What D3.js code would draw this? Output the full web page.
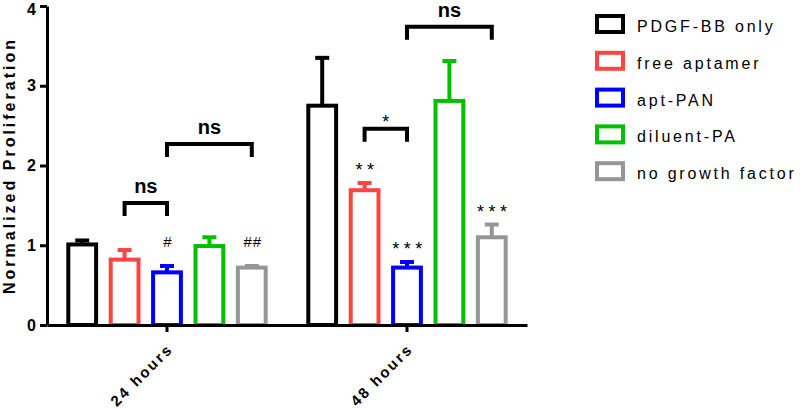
<!DOCTYPE html>
<html>
<head>
<meta charset="utf-8">
<script src="https://cdn.jsdelivr.net/npm/d3@7"></script>
<style>
  body { margin: 0; background: #fff; }
  text { font-family: "Liberation Sans", Arial, Helvetica, sans-serif; }
</style>
</head>
<body>
<div id="chart"></div>
<script>
// chart values
const groups = ["24 hours", "48 hours"];
const series = ["PDGF-BB only", "free aptamer", "apt-PAN", "diluent-PA", "no growth factor"];
const colors = ["#000000", "#ff4444", "#0000ff", "#00c000", "#969696"];
const mean24 = [1.01, 0.82, 0.66, 0.99, 0.72];
const sem24 = [0.05, 0.12, 0.08, 0.11, 0.02];
const mean48 = [2.75, 1.69, 0.72, 2.81, 1.10];
const sem48 = [0.60, 0.09, 0.07, 0.50, 0.16];
const marks24 = ["", "", "#", "", "##"];
const marks48 = ["", "**", "***", "", "***"];
const yTicks = [0, 1, 2, 3, 4];

// significance brackets: group, from-series, to-series, height, label
const brackets = [
  { g: "24 hours", a: 1, b: 2, y: 1.53, label: "ns" },
  { g: "24 hours", a: 2, b: 4, y: 2.27, label: "ns" },
  { g: "48 hours", a: 1, b: 2, y: 2.46, label: "*" },
  { g: "48 hours", a: 2, b: 4, y: 3.74, label: "ns" }
];

const width = 800, height = 410;
const plot = { left: 47, right: 527, top: 6, bottom: 325 };

const svg = d3.select("#chart").append("svg")
  .attr("width", width)
  .attr("height", height);

const y = d3.scaleLinear().domain([0, 4]).range([plot.bottom, plot.top]);
const x0 = d3.scaleBand().domain(groups).range([plot.left, plot.right]);
const x1 = d3.scaleBand().domain(d3.range(series.length))
  .range([14, x0.bandwidth() - 14])
  .paddingInner(0.25)
  .paddingOuter(0.125);

const rows = [];
groups.forEach((g, gi) => {
  const m = gi === 0 ? mean24 : mean48;
  const s = gi === 0 ? sem24 : sem48;
  const k = gi === 0 ? marks24 : marks48;
  series.forEach((name, i) => rows.push({ g, i, mean: m[i], sem: s[i], mark: k[i] }));
});
const cx = d => x0(d.g) + x1(d.i) + x1.bandwidth() / 2;
const isStar = s => s[0] === "*";

// bars
svg.append("g").selectAll("rect")
  .data(rows)
  .enter()
  .append("rect")
  .attr("x", d => x0(d.g) + x1(d.i) + 2)
  .attr("y", d => y(d.mean))
  .attr("width", x1.bandwidth() - 4)
  .attr("height", d => y(0) - y(d.mean))
  .attr("fill", "#fff")
  .attr("stroke", d => colors[d.i])
  .attr("stroke-width", 4);

// error bars (upper only)
const err = svg.append("g").selectAll("g")
  .data(rows)
  .enter()
  .append("g")
  .attr("stroke", d => colors[d.i])
  .attr("stroke-width", 4);
err.append("line")
  .attr("x1", cx).attr("x2", cx)
  .attr("y1", d => y(d.mean))
  .attr("y2", d => y(d.mean + d.sem));
err.append("line")
  .attr("x1", d => cx(d) - 7).attr("x2", d => cx(d) + 7)
  .attr("y1", d => y(d.mean + d.sem))
  .attr("y2", d => y(d.mean + d.sem));

// significance marks above bars
svg.append("g").selectAll("text")
  .data(rows.filter(d => d.mark))
  .enter()
  .append("text")
  .attr("x", d => cx(d) + (isStar(d.mark) ? 2.5 : 1))
  .attr("y", d => y(d.mean + d.sem) - (isStar(d.mark) ? 7 : 19))
  .attr("text-anchor", "middle")
  .attr("font-size", d => isStar(d.mark) ? "18px" : "15px")
  .attr("letter-spacing", d => isStar(d.mark) ? "4.5px" : "1px")
  .text(d => d.mark);

// axes
const yAxis = svg.append("g")
  .attr("transform", `translate(${plot.left},0)`)
  .call(d3.axisLeft(y).tickValues(yTicks).tickFormat(d3.format("d")).tickSize(7).tickSizeOuter(0).tickPadding(4));
const xAxis = svg.append("g")
  .attr("transform", `translate(0,${plot.bottom})`)
  .call(d3.axisBottom(x0).tickSize(7).tickSizeOuter(0));
[yAxis, xAxis].forEach(a => {
  a.select(".domain").attr("stroke-width", 3);
  a.selectAll(".tick line").attr("stroke-width", 3);
});
yAxis.selectAll(".tick text")
  .attr("font-size", "16px")
  .attr("font-weight", "bold")
  .attr("font-family", "Liberation Sans, Arial, sans-serif")
  .attr("y", d => d === 4 ? 3 : 0);
xAxis.selectAll(".tick text")
  .attr("font-size", "15px")
  .attr("font-weight", "bold")
  .attr("font-family", "Liberation Sans, Arial, sans-serif")
  .attr("letter-spacing", "2.3px")
  .attr("text-anchor", "end")
  .attr("dy", 0)
  .attr("y", 0)
  .attr("transform", "translate(7,25) rotate(-45)");

// brackets
const br = svg.append("g").selectAll("g")
  .data(brackets)
  .enter()
  .append("g");
const bx = (b, i) => x0(b.g) + x1(i) + x1.bandwidth() / 2;
br.append("path")
  .attr("fill", "none")
  .attr("stroke", "#000")
  .attr("stroke-width", 4)
  .attr("d", b => `M${bx(b, b.a)},${y(b.y) + 13}V${y(b.y)}H${bx(b, b.b)}V${y(b.y) + 13}`);
br.append("text")
  .attr("x", b => (bx(b, b.a) + bx(b, b.b)) / 2)
  .attr("y", b => isStar(b.label) ? y(b.y) - 1 : y(b.y) - 10)
  .attr("text-anchor", "middle")
  .attr("font-weight", b => isStar(b.label) ? "normal" : "bold")
  .attr("font-size", b => isStar(b.label) ? "18px" : "20px")
  .text(b => b.label);

// y axis title
svg.append("text")
  .attr("transform", `translate(15,${(plot.top + plot.bottom) / 2}) rotate(-90)`)
  .attr("text-anchor", "middle")
  .attr("font-size", "16px")
  .attr("font-weight", "bold")
  .attr("letter-spacing", "3px")
  .text("Normalized Proliferation");

// legend
const legend = svg.append("g").selectAll("g")
  .data(series)
  .enter()
  .append("g")
  .attr("transform", (d, i) => `translate(597,${24 + i * 36.8})`);
legend.append("rect")
  .attr("x", 0).attr("y", -8)
  .attr("width", 26).attr("height", 16)
  .attr("fill", "#fff")
  .attr("stroke", (d, i) => colors[i])
  .attr("stroke-width", 4);
legend.append("text")
  .attr("x", 40).attr("y", 8)
  .attr("font-size", "16px")
  .attr("letter-spacing", "2.8px")
  .text(d => d);
</script>
</body>
</html>
